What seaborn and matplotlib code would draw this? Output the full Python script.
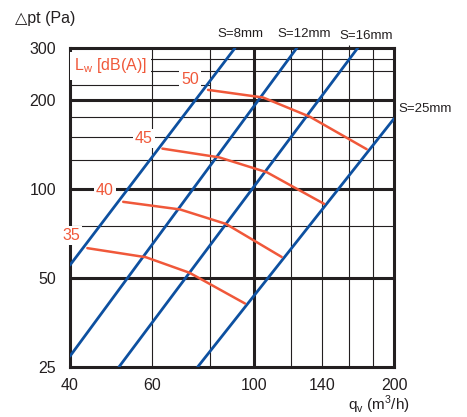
import numpy as np
import pandas as pd
import matplotlib
matplotlib.use('Agg')
import matplotlib.pyplot as plt
from matplotlib.ticker import NullLocator, FixedLocator, NullFormatter
import seaborn as sns

# ---- data ----
q_ticks = [40, 100, 200]
q_ticks_minor = [60, 140]
dp_ticks = [25, 50, 100, 200, 300]

q_grid_thin = [60, 80, 120, 140, 160, 180]
q_grid_thick = [100]
dp_grid_thin = [75, 125, 150, 175, 250, 275]
dp_grid_thick = [50, 100, 200]

# S lines (slot opening): two end points each, straight in log-log
s_names = ['S=8mm', 'S=12mm', 'S=16mm', 'S=25mm']
s_q = [[40, 90.8], [40, 123.4], [51, 167], [75.4, 200]]
s_dp = [[55.3, 300], [27.2, 300], [25, 300], [25, 173]]

# sound power level curves Lw [dB(A)]
lw_levels = [50, 45, 40, 35]
lw_q = [[79.4, 104.4, 131.8, 174.6],
        [63.3, 83.9, 106.3, 141.3],
        [52.1, 69.1, 86.8, 114.5],
        [43.6, 58.3, 72.4, 95.4]]
lw_dp = [[216.5, 204, 175.5, 136.4],
         [137, 128, 114, 89.1],
         [90.5, 85.3, 76.2, 58.9],
         [63.1, 58.8, 52.1, 41.0]]

BLUE = '#0d50a0'
ORANGE = '#f0583a'
INK = '#231f20'

sns.set_theme(style='white')
plt.rcParams['font.family'] = ['Liberation Sans', 'DejaVu Sans']
plt.rcParams['mathtext.fontset'] = 'custom'
plt.rcParams['mathtext.rm'] = 'Liberation Sans'

fig = plt.figure(figsize=(4.67, 4.17), dpi=100)
ax = fig.add_axes([70 / 467, 50 / 417, 324 / 467, 319 / 417])
ax.set_xscale('log')
ax.set_yscale('log')
ax.set_xlim(40, 200)
ax.set_ylim(25, 300)

# grid
for v in q_grid_thin:
    ax.axvline(v, color=INK, lw=0.8, zorder=1)
for v in q_grid_thick:
    ax.axvline(v, color=INK, lw=2.2, zorder=1)
for v in dp_grid_thin:
    ax.axhline(v, color=INK, lw=0.8, zorder=1)
for v in dp_grid_thick:
    ax.axhline(v, color=INK, lw=2.2, zorder=1)
ax.hlines(225, 40, 80, color=INK, lw=0.8, zorder=1)

# S lines
df_s = pd.DataFrame({
    'q': np.concatenate(s_q),
    'dp': np.concatenate(s_dp),
    'S': np.repeat(s_names, 2),
})
sns.lineplot(data=df_s, x='q', y='dp', hue='S', units='S', estimator=None,
             palette=[BLUE] * 4, lw=2.0, legend=False, ax=ax, zorder=3)

# Lw curves
df_lw = pd.DataFrame({
    'q': np.concatenate(lw_q),
    'dp': np.concatenate(lw_dp),
    'Lw': np.repeat(lw_levels, 4),
})
sns.lineplot(data=df_lw, x='q', y='dp', hue='Lw', units='Lw', estimator=None,
             palette=[ORANGE] * 4, lw=1.8, legend=False, ax=ax, zorder=4)

# frame and ticks
for sp in ax.spines.values():
    sp.set_linewidth(2.2)
    sp.set_color(INK)
    sp.set_zorder(2)

ax.xaxis.set_major_locator(FixedLocator(q_ticks))
ax.xaxis.set_minor_locator(FixedLocator(q_ticks_minor))
ax.set_xticklabels([str(v) for v in q_ticks])
ax.set_xticklabels([str(v) for v in q_ticks_minor], minor=True)
ax.yaxis.set_major_locator(FixedLocator(dp_ticks))
ax.yaxis.set_minor_locator(NullLocator())
ax.set_yticklabels([str(v) for v in dp_ticks])
ax.tick_params(axis='both', which='major', direction='out', length=5,
               width=2.2, color=INK, labelsize=11.5, labelcolor=INK, pad=3)
ax.tick_params(axis='x', which='minor', length=0, labelsize=11.5,
               labelcolor=INK, pad=8)
ax.tick_params(axis='y', which='major', pad=5)
ax.set_xlabel('')
ax.set_ylabel('')

top = ax.secondary_xaxis('top')
top.set_xticks([160])
top.xaxis.set_minor_locator(NullLocator())
top.xaxis.set_major_formatter(NullFormatter())
top.tick_params(length=2.5, width=0.8, color=INK)
top.spines['top'].set_visible(False)

# texts
ax.text(-0.170, 1.094, '\u25b3pt (Pa)', transform=ax.transAxes,
        fontsize=11.5, color=INK, ha='left', va='center')
ax.text(0.858, -0.118, r'q$_\mathregular{v}$ (m$^\mathregular{3}$/h)',
        transform=ax.transAxes, fontsize=11, color=INK, ha='left', va='center')

s_pos = [(0.526, 1.044, 'center'), (0.722, 1.044, 'center'),
         (0.915, 1.038, 'center'), (1.015, 0.809, 'left')]
for name, (x, y, ha) in zip(s_names, s_pos):
    ax.text(x, y, name, transform=ax.transAxes, fontsize=9.5, color=INK,
            ha=ha, va='center')

ax.text(0.012, 0.944, r'L$_\mathregular{w}$ [dB(A)]', transform=ax.transAxes,
        fontsize=11.5, color=ORANGE, ha='left', va='center', zorder=6,
        bbox=dict(facecolor='white', edgecolor='none', pad=3))

lab_pos = [(0.370, 0.900), (0.228, 0.717), (0.108, 0.553), (0.004, 0.411)]
for lev, (x, y) in zip(lw_levels, lab_pos):
    ax.text(x, y, str(lev), transform=ax.transAxes, fontsize=11.5,
            color=ORANGE, ha='center', va='center', zorder=6, clip_on=False,
            bbox=dict(facecolor='white', edgecolor='none', pad=1.5))

fig.savefig('out.png', dpi=100)
